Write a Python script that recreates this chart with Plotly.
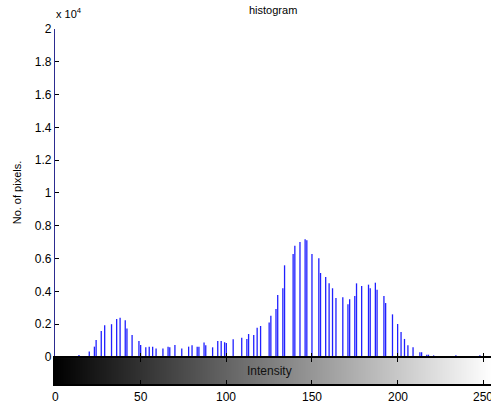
import plotly.graph_objects as go

# Histogram data (intensity bin -> pixel count)
intensity = [14, 20, 23, 24, 27, 29, 33, 36, 38, 41, 42, 45, 49, 50, 53, 55, 57, 59,
             63, 66, 67, 70, 74, 78, 80, 83, 84, 87, 88, 92, 95, 97, 99, 100,
             104, 109, 112, 113, 116, 118, 120, 125, 126, 129, 130, 133, 134,
             139, 140, 143, 146, 147, 150, 154, 155, 158, 160, 162, 164, 168,
             171, 172, 175, 176, 179, 183, 184, 187, 188, 192, 193, 197, 200,
             202, 204, 206, 209, 213, 214, 217, 218, 221, 234, 248]
counts = [120, 330, 630, 1040, 1590, 1930, 2000, 2320, 2400, 2240, 1730, 1340, 980, 730, 590, 630, 630, 510,
          510, 630, 590, 730, 510, 630, 710, 630, 630, 890, 710, 590, 980, 980, 900, 850,
          1080, 1180, 1100, 1400, 1340, 1790, 1890, 2110, 2520, 2930, 3780, 4190, 5590,
          6280, 6790, 7015, 7180, 7115, 6280, 6020, 5120, 4880, 4490, 4190, 3600, 3640,
          3210, 3520, 3720, 4490, 4330, 4410, 4190, 4530, 4100, 3720, 3290, 2600, 2010,
          1520, 1100, 710, 590, 290, 290, 140, 140, 100, 100, 100]

x_ticks = [0, 50, 100, 150, 200, 250]
x_tick_text = ["0", "50", "100", "150", "200", "250"]
y_ticks = [0, 2000, 4000, 6000, 8000, 10000, 12000, 14000, 16000, 18000, 20000]
y_tick_text = ["0", "0.2", "0.4", "0.6", "0.8", "1", "1.2", "1.4", "1.6", "1.8", "2"]
gray_levels = list(range(256))

sx, sy = [], []
for v, c in zip(intensity, counts):
    sx += [v, v, None]
    sy += [0, c, None]

FONT = "Liberation Sans, Arial, Helvetica, sans-serif"
FS = 12

fig = go.Figure()
fig.add_trace(go.Scatter(x=sx, y=sy, mode="lines", line=dict(color="#2020ff", width=1.3),
                         hoverinfo="skip", showlegend=False, xaxis="x", yaxis="y"))
fig.add_trace(go.Heatmap(z=[gray_levels], x=gray_levels, y0=0.5, dy=1,
                         colorscale=[[0, "black"], [1, "white"]], zmin=0, zmax=255,
                         showscale=False, hoverinfo="skip", xaxis="x2", yaxis="y2"))

annotations = [
    dict(text="histogram", xref="paper", yref="paper", x=0.5, y=1.0535,
         xanchor="center", yanchor="middle", showarrow=False,
         font=dict(family=FONT, size=11, color="black")),
    dict(text="x 10<sup>4</sup>", xref="paper", yref="paper", x=-0.002, y=1.046,
         xanchor="left", yanchor="middle", showarrow=False,
         font=dict(family=FONT, size=11, color="black")),
    dict(text="No. of pixels.", xref="paper", yref="paper", x=(17 - 55) / 436, y=0.54,
         xanchor="center", yanchor="middle", textangle=-90, showarrow=False,
         font=dict(family=FONT, size=11, color="black")),
    dict(text="Intensity", xref="x2", yref="y2", x=125, y=0.5,
         xanchor="center", yanchor="middle", showarrow=False,
         font=dict(family=FONT, size=12, color="#111111")),
]
# x tick labels as annotations so the last one is cut at the page edge like the reference
for tv, tt in zip(x_ticks, x_tick_text):
    annotations.append(dict(text=tt, xref="x2", yref="paper", x=tv, y=-0.037,
                            xanchor="center", yanchor="middle", showarrow=False,
                            font=dict(family=FONT, size=FS, color="black")))

fig.update_layout(
    width=491, height=407,
    margin=dict(l=55, r=0, t=29, b=23),
    paper_bgcolor="white", plot_bgcolor="white",
    font=dict(family=FONT, size=FS, color="black"),
    showlegend=False,
    xaxis=dict(domain=[0, 1], range=[0, 254.5], anchor="y", showticklabels=False,
               tickvals=x_ticks, ticks="inside", ticklen=4, tickcolor="black",
               showline=True, linecolor="black", linewidth=1,
               showgrid=False, zeroline=False, automargin=False),
    yaxis=dict(domain=[0.0761, 1], range=[0, 20000], anchor="x",
               tickvals=y_ticks, ticktext=y_tick_text, ticks="inside", ticklen=4,
               tickcolor="black", showline=True, linecolor="#2c2c90", linewidth=1.3,
               showgrid=False, zeroline=False, automargin=False,
               tickfont=dict(family=FONT, size=FS, color="black")),
    xaxis2=dict(domain=[0, 1], range=[0, 254.5], anchor="y2", matches="x",
                tickvals=x_ticks, showticklabels=False, ticks="inside", ticklen=4,
                tickcolor="black", showline=True, mirror="ticks", linecolor="black",
                linewidth=2, showgrid=False, zeroline=False, automargin=False),
    yaxis2=dict(domain=[0, 0.0732], range=[0, 1], anchor="x2", showticklabels=False,
                ticks="", showline=True, linecolor="black", linewidth=1.5,
                showgrid=False, zeroline=False, automargin=False),
    annotations=annotations,
)

fig.write_html("out.html")
